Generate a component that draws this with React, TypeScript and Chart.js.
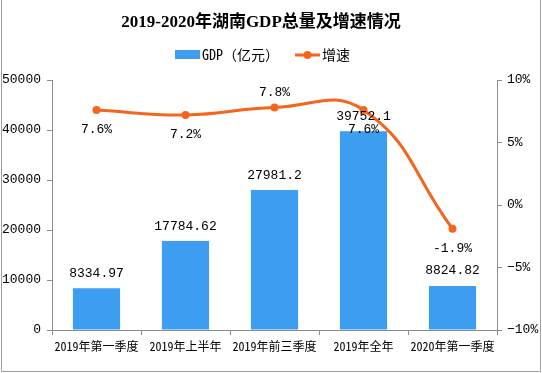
import React, { useEffect, useRef } from "react";
import { Chart, registerables } from "chart.js";

Chart.register(...registerables);

const categories = ["2019年第一季度", "2019年上半年", "2019年前三季度", "2019年全年", "2020年第一季度"];
const gdpValues = [8334.97, 17784.62, 27981.2, 39752.1, 8824.82];
const gdpLabels = ["8334.97", "17784.62", "27981.2", "39752.1", "8824.82"];
const growthValues = [7.6, 7.2, 7.8, 7.6, -1.9];
const growthLabelsAbove = [false, false, true, false, false];
const leftTicks = [0, 10000, 20000, 30000, 40000, 50000];
const rightTicks = [-10, -5, 0, 5, 10];
const titleText = "2019-2020年湖南GDP总量及增速情况";
const legendGdp = "GDP（亿元）";
const legendGrowth = "增速";

const BLUE = "#3D9DF1";
const ORANGE = "#F4651E";
const AXIS = "#8c8c8c";
const MONO = '"Liberation Mono", "DejaVu Sans Mono", monospace';
const CJK = '"Noto Sans Mono CJK SC", "Noto Sans CJK SC", sans-serif';

const decorPlugin = {
  id: "decor",
  afterDatasetsDraw(chart: any) {
    const ctx = chart.ctx;
    ctx.save();
    const barMeta = chart.getDatasetMeta(0);
    ctx.font = `13px ${MONO}`;
    ctx.fillStyle = "#000";
    ctx.textAlign = "center";
    ctx.textBaseline = "middle";
    barMeta.data.forEach((el: any, i: number) => {
      ctx.fillText(gdpLabels[i], el.x, el.y - 15);
    });
    const lineMeta = chart.getDatasetMeta(1);
    lineMeta.data.forEach((el: any, i: number) => {
      const txt = growthValues[i].toFixed(1) + "%";
      const dy = growthLabelsAbove[i] ? -15 : 20;
      ctx.fillText(txt, el.x, el.y + dy);
    });
    ctx.restore();
  },
  afterDraw(chart: any) {
    const ctx = chart.ctx;
    ctx.save();
    ctx.fillStyle = "#000";
    ctx.textAlign = "center";
    ctx.textBaseline = "middle";
    ctx.font = `bold 17px "Liberation Serif", "Noto Sans CJK SC", serif`;
    ctx.fillText(titleText, 261, 23);
    ctx.textAlign = "left";
    ctx.font = `14px ${CJK}`;
    ctx.fillStyle = BLUE;
    ctx.fillRect(175, 50, 25, 9);
    ctx.fillStyle = "#000";
    ctx.fillText(legendGdp, 202, 55);
    ctx.strokeStyle = ORANGE;
    ctx.lineWidth = 3;
    ctx.beginPath();
    ctx.moveTo(295, 55);
    ctx.lineTo(320, 55);
    ctx.stroke();
    ctx.fillStyle = ORANGE;
    ctx.beginPath();
    ctx.arc(307.5, 55, 4, 0, Math.PI * 2);
    ctx.fill();
    ctx.fillStyle = "#000";
    ctx.fillText(legendGrowth, 322, 55);
    ctx.strokeStyle = "#a0a0a0";
    ctx.lineWidth = 1;
    ctx.beginPath();
    ctx.moveTo(1.5, 0);
    ctx.lineTo(1.5, 371.5);
    ctx.lineTo(540.5, 371.5);
    ctx.lineTo(540.5, 0);
    ctx.stroke();
    ctx.restore();
  },
};

export default function App() {
  const ref = useRef<HTMLCanvasElement | null>(null);
  useEffect(() => {
    document.body.style.margin = "0";
    const canvas = ref.current;
    if (!canvas) return;
    const chart = new Chart(canvas, {
      type: "bar",
      data: {
        labels: categories,
        datasets: [
          {
            type: "bar",
            label: legendGdp,
            data: gdpValues,
            backgroundColor: BLUE,
            borderWidth: 0,
            barPercentage: 0.53,
            categoryPercentage: 1,
            yAxisID: "y",
            order: 2,
          },
          {
            type: "line",
            label: legendGrowth,
            data: growthValues,
            borderColor: ORANGE,
            backgroundColor: ORANGE,
            borderWidth: 3,
            pointRadius: 4,
            pointHoverRadius: 4,
            pointBackgroundColor: ORANGE,
            pointBorderWidth: 0,
            tension: 0.45,
            yAxisID: "y1",
            order: 1,
          } as any,
        ],
      },
      options: {
        animation: false,
        responsive: false,
        events: [],
        layout: { padding: { top: 80, left: 0, right: 0, bottom: 0 } },
        plugins: {
          legend: { display: false },
          title: { display: false },
          tooltip: { enabled: false },
        },
        scales: {
          x: {
            grid: { display: true, drawOnChartArea: false, offset: true, color: AXIS, tickLength: 5 },
            border: { color: AXIS },
            ticks: { color: "#000", font: { family: CJK, size: 12 }, padding: 4, maxRotation: 0, autoSkip: false },
            afterFit(scale: any) {
              scale.height = 43;
            },
          },
          y: {
            position: "left",
            min: 0,
            max: 50000,
            afterBuildTicks(scale: any) {
              scale.ticks = leftTicks.map((v) => ({ value: v }));
            },
            grid: { display: true, drawOnChartArea: false, color: AXIS, tickLength: 5 },
            border: { color: AXIS },
            ticks: { color: "#000", font: { family: MONO, size: 13 }, padding: 6, callback: (v: any) => String(v) },
            afterFit(scale: any) {
              scale.width = 52;
            },
          },
          y1: {
            position: "right",
            min: -10,
            max: 10,
            afterBuildTicks(scale: any) {
              scale.ticks = rightTicks.map((v) => ({ value: v }));
            },
            grid: { display: true, drawOnChartArea: false, color: AXIS, tickLength: 5 },
            border: { color: AXIS },
            ticks: {
              color: "#000",
              font: { family: MONO, size: 13 },
              padding: 5,
              callback: (v: any) => (v < 0 ? "−" + Math.abs(v) : v) + "%",
            },
            afterFit(scale: any) {
              scale.width = 45;
            },
          },
        },
      },
      plugins: [decorPlugin],
    });
    return () => chart.destroy();
  }, []);
  return <canvas ref={ref} width={542} height={373} style={{ display: "block", width: 542, height: 373 }} />;
}
